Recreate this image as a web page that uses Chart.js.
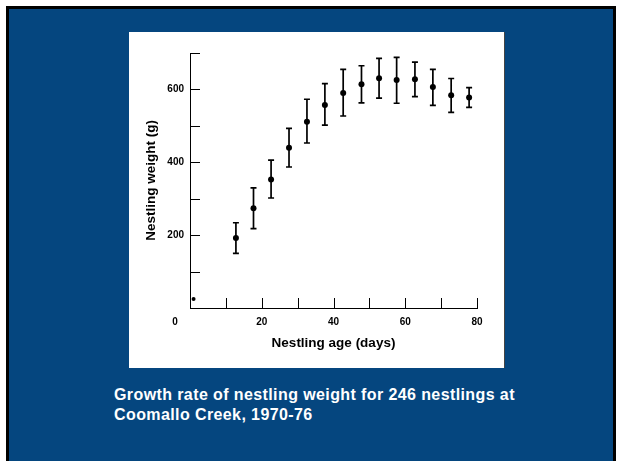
<!DOCTYPE html>
<html>
<head>
<meta charset="utf-8">
<script src="https://cdn.jsdelivr.net/npm/chart.js@4/dist/chart.umd.min.js"></script>
<style>
  body { margin: 0; background: #fff; width: 618px; height: 461px; overflow: hidden; position: relative; }
  #slide {
    position: absolute; left: 6px; top: 6px; width: 610px; height: 470px;
    box-sizing: border-box; background: #05467f;
    border-top: 3px solid #000; border-left: 3px solid #000; border-right: 3px solid #000;
  }
  #box {
    position: absolute; left: 129px; top: 32px; width: 376px; height: 336px;
    background: #fff; box-sizing: border-box; border-right: 1px solid #444;
  }
  #caption {
    position: absolute; left: 114px; top: 385px; color: #fff;
    font: bold 16px Arial, 'Liberation Sans', sans-serif; line-height: 20px; letter-spacing: 0.4px;
  }
</style>
</head>
<body>
<div id="slide"></div>
<div id="box"><canvas id="myChart" width="376" height="336"></canvas></div>
<div id="caption">Growth rate of nestling weight for 246 nestlings at<br>Coomallo Creek, 1970-76</div>
<script>
// Datos
const days = [1, 12.8, 17.7, 22.6, 27.6, 32.6, 37.6, 42.7, 47.8, 52.7, 57.6, 62.7, 67.7, 72.8, 77.8];
const meanWeight = [25, 192, 274, 353, 440, 511, 557, 590, 614, 631, 626, 628, 607, 584, 578];
const upperWeight = [null, 234, 330, 406, 493, 573, 616, 655, 665, 685, 688, 675, 655, 630, 605];
const lowerWeight = [null, 150, 218, 302, 387, 453, 502, 527, 563, 576, 562, 580, 556, 537, 551];
const yLabels = [200, 400, 600];
const xLabels = [20, 40, 60, 80];

const FONT = 'Arial, "Liberation Sans", sans-serif';

// Ticks hacia dentro, barras de error y la etiqueta "0" desplazada
const extras = {
  id: 'extras',
  afterDatasetsDraw(chart) {
    const ctx = chart.ctx;
    const x = chart.scales.x, y = chart.scales.y;
    ctx.save();
    ctx.strokeStyle = '#000';
    ctx.lineWidth = 1;
    ctx.beginPath();
    y.ticks.forEach(t => {
      if (t.value === 0) return;
      const py = Math.round(y.getPixelForValue(t.value)) + 0.5;
      ctx.moveTo(x.left, py);
      ctx.lineTo(x.left + 10, py);
    });
    x.ticks.forEach(t => {
      if (t.value === 0) return;
      const px = Math.round(x.getPixelForValue(t.value)) + 0.5;
      ctx.moveTo(px, y.bottom);
      ctx.lineTo(px, y.bottom - 10);
    });
    ctx.stroke();

    ctx.lineWidth = 1.7;
    ctx.beginPath();
    days.forEach((d, i) => {
      if (upperWeight[i] == null) return;
      const px = x.getPixelForValue(d);
      const top = y.getPixelForValue(upperWeight[i]);
      const bot = y.getPixelForValue(lowerWeight[i]);
      ctx.moveTo(px, top); ctx.lineTo(px, bot);
      ctx.moveTo(px - 3, top); ctx.lineTo(px + 3, top);
      ctx.moveTo(px - 3, bot); ctx.lineTo(px + 3, bot);
    });
    ctx.stroke();

    ctx.fillStyle = '#000';
    ctx.font = 'bold 10px ' + FONT;
    ctx.textAlign = 'center';
    ctx.textBaseline = 'middle';
    ctx.fillText('0', x.getPixelForValue(0) - 15, y.bottom + 14);
    ctx.restore();
  }
};

const ctx = document.getElementById('myChart').getContext('2d');
const myChart = new Chart(ctx, {
  type: 'scatter',
  data: {
    datasets: [{
      data: days.map((d, i) => ({ x: d, y: meanWeight[i] })),
      backgroundColor: '#000',
      borderColor: '#000',
      pointRadius: days.map((d, i) => i === 0 ? 2 : 3),
      pointBorderWidth: 0,
      showLine: false
    }]
  },
  options: {
    responsive: false,
    animation: false,
    devicePixelRatio: 1,
    layout: { padding: { top: 21, right: 28, left: 0, bottom: 0 } },
    plugins: { legend: { display: false }, tooltip: { enabled: false } },
    scales: {
      x: {
        type: 'linear',
        min: 0, max: 80,
        afterFit: s => { s.height = 60; },
        grid: { display: false, drawTicks: false },
        border: { display: true, color: '#000', width: 1 },
        ticks: {
          stepSize: 10, padding: 8, color: '#000', maxRotation: 0, autoSkip: false,
          font: { family: FONT, size: 10, weight: 'bold' },
          callback: v => xLabels.includes(v) ? String(v) : ''
        },
        title: {
          display: true, text: 'Nestling age (days)', color: '#000',
          font: { family: FONT, size: 13.5, weight: 'bold' },
          padding: { top: 0, bottom: 17 }
        }
      },
      y: {
        min: 0, max: 700,
        afterFit: s => { s.width = 61; },
        grid: { display: false, drawTicks: false },
        border: { display: true, color: '#000', width: 1 },
        ticks: {
          stepSize: 100, padding: 6, color: '#000', autoSkip: false,
          font: { family: FONT, size: 10, weight: 'bold' },
          callback: v => yLabels.includes(v) ? String(v) : ''
        },
        title: {
          display: true, text: 'Nestling weight (g)', color: '#000',
          font: { family: FONT, size: 13.5, weight: 'bold' },
          padding: { top: 14, bottom: 0 }
        }
      }
    }
  },
  plugins: [extras]
});
</script>
</body>
</html>
